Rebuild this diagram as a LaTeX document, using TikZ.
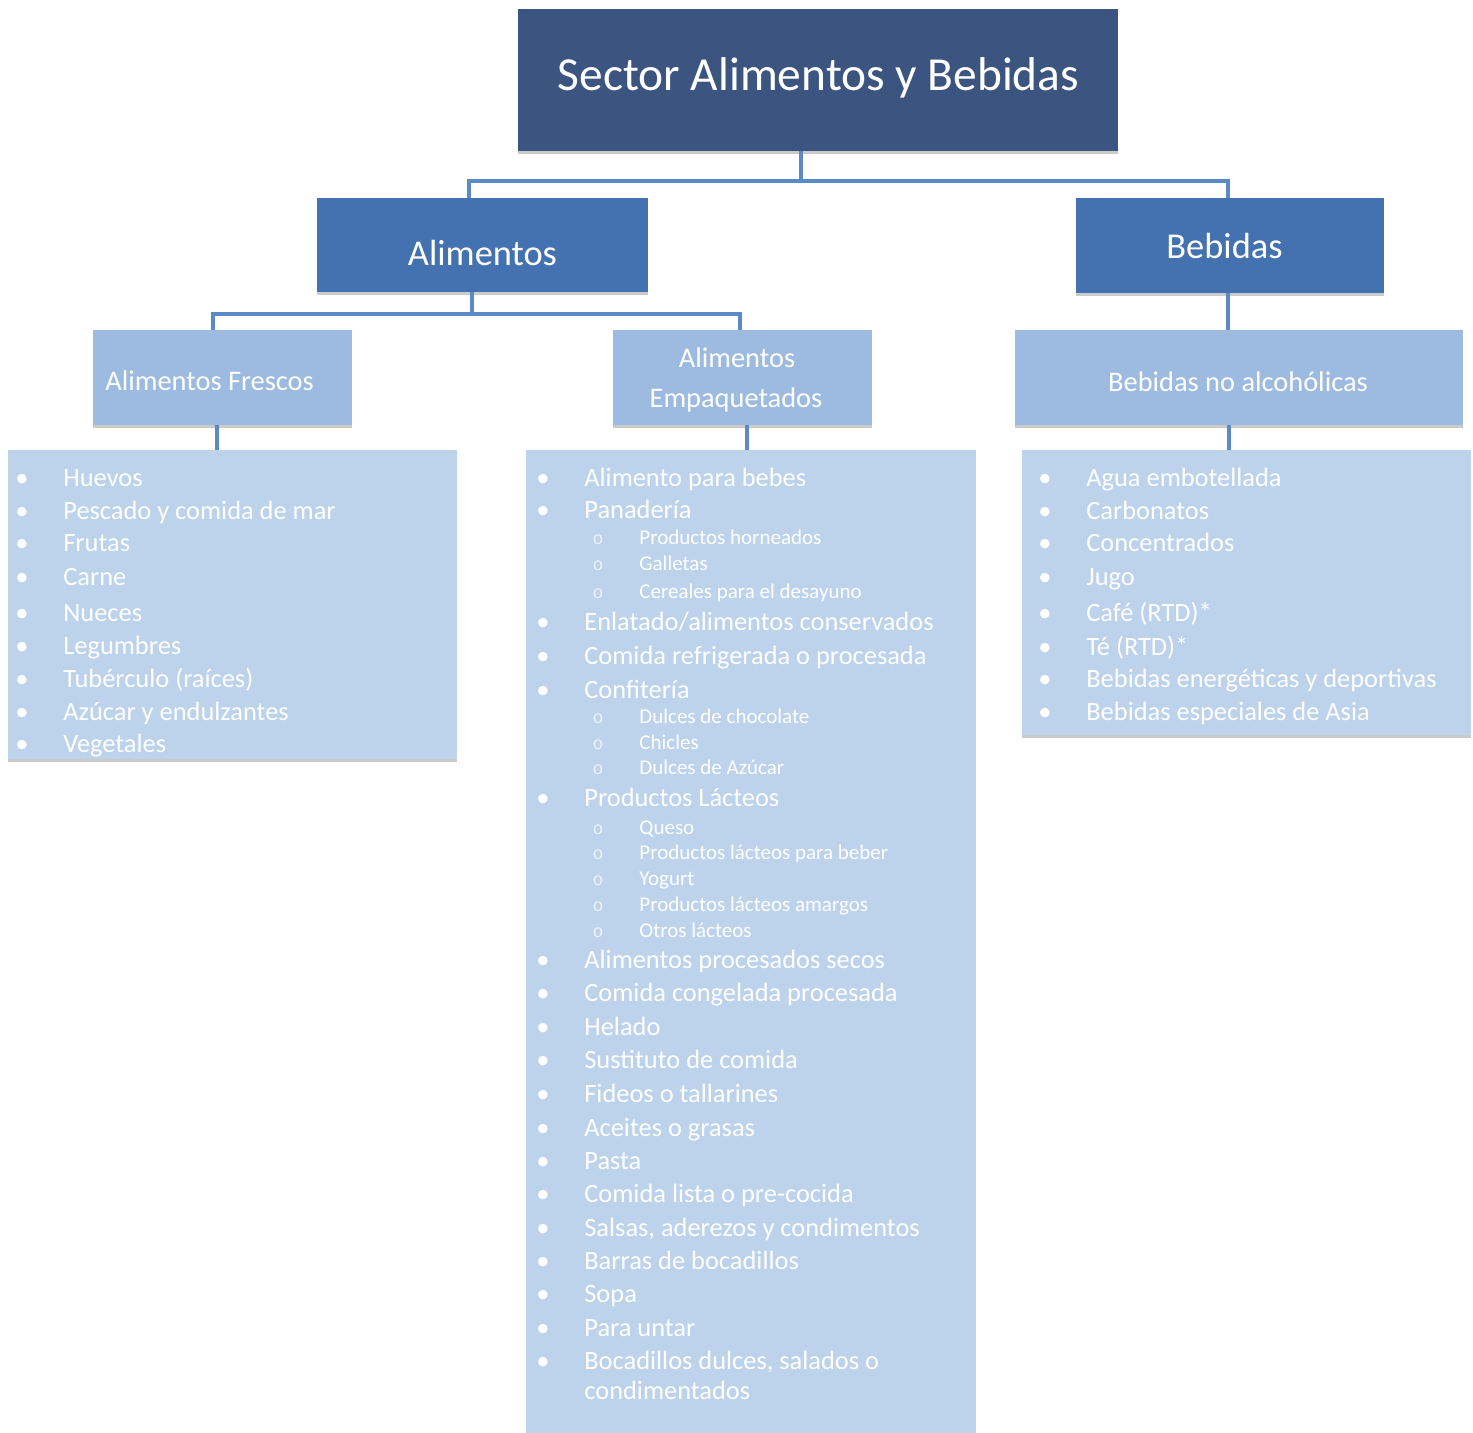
\documentclass[tikz,border=0pt]{standalone}
\usepackage{fontspec}
\setmainfont{Carlito}
\newfontfamily\monof{Liberation Mono}
\usetikzlibrary{fit,shadows}
\definecolor{cTop}{HTML}{3B5480}
\definecolor{cMid}{HTML}{4472B0}
\definecolor{cLow}{HTML}{9DBBE0}
\definecolor{cList}{HTML}{BDD3EC}
\definecolor{cConn}{HTML}{5B8BC7}
\newcommand\mybul{\llap{\makebox[0pt]{•}\hspace{20.75pt}}}
\newcommand\mysubbul{\llap{\makebox[0pt]{\color{white!70!cList}\monof\fontsize{9}{11}\selectfont o}\hspace{20.75pt}}}
\tikzset{
  box/.style={inner sep=0pt, draw=none, drop shadow={shadow xshift=0pt, shadow yshift=-1.6pt, opacity=0.35, fill=black!60}},
  lab/.style={text=white, inner sep=0pt, anchor=base},
  item/.style={text=white, inner sep=0pt, anchor=base west, font=\fontsize{13.2}{15}\selectfont},
  subitem/.style={text=white, inner sep=0pt, anchor=base west, font=\fontsize{10.5}{12}\selectfont},
  conn/.style={draw=cConn, line width=2.1pt}
}
\begin{document}
\begin{tikzpicture}[x=0.5pt,y=-0.5pt]
\useasboundingbox (0,0) rectangle (1473,1433);
% boxes
\node[box, fill=cTop, fit={(518,9) (1118,151)}] (top) {};
\node[box, fill=cMid, fit={(317,198) (648,292)}] (alim) {};
\node[box, fill=cMid, fit={(1076,198) (1384,293)}] (beb) {};
\node[box, fill=cLow, fit={(93,330) (352,425)}] (fres) {};
\node[box, fill=cLow, fit={(613,330) (872,425)}] (emp) {};
\node[box, fill=cLow, fit={(1015,330) (1463,425)}] (bna) {};
\node[box, fill=cList, fit={(8,450) (457,759)}] (lfres) {};
\node[box, fill=cList, fit={(526,450) (976,1440)}] (lemp) {};
\node[box, fill=cList, fit={(1022,450) (1471,735)}] (lbeb) {};
% connectors
\coordinate (jt) at (801,181);
\coordinate (jl) at (469,181);
\coordinate (jr) at (1228,181);
\coordinate (ja) at (472,314);
\coordinate (jal) at (213,314);
\coordinate (jar) at (740,314);
\coordinate (xf) at (217,440);
\coordinate (xe) at (747,440);
\coordinate (xb) at (1229,440);
\draw[conn] (top.south -| jt) -- (jt);
\draw[conn] (alim.north -| jl) -- (jl) -- (jr) -- (beb.north -| jr);
\draw[conn] (alim.south -| ja) -- (ja);
\draw[conn] (fres.north -| jal) -- (jal) -- (jar) -- (emp.north -| jar);
\draw[conn] (beb.south -| jr) -- (bna.north -| jr);
\draw[conn] (fres.south -| xf) -- (lfres.north -| xf);
\draw[conn] (emp.south -| xe) -- (lemp.north -| xe);
\draw[conn] (bna.south -| xb) -- (lbeb.north -| xb);
% labels
\node[lab, font=\fontsize{23.7}{28}\selectfont] (ttop) at (818.5,91) {Sector Alimentos y Bebidas};
\node[lab, font=\fontsize{18.2}{21}\selectfont] (talim) at (482.5,266) {Alimentos};
\node[lab, font=\fontsize{18.2}{21}\selectfont] (tbeb) at (1224.5,259) {Bebidas};
\node[lab, font=\fontsize{14.2}{17}\selectfont, anchor=base west] (tfres) at (105,390.5) {Alimentos Frescos};
\node[lab, font=\fontsize{14.2}{17}\selectfont] (temp1) at (737,368) {Alimentos};
\node[lab, font=\fontsize{14.2}{17}\selectfont] (temp2) at (736,408) {Empaquetados};
\node[lab, font=\fontsize{14.2}{17}\selectfont] (tbna) at (1238,391.5) {Bebidas no alcohólicas};
% Frescos list
\foreach \t/\y [count=\i] in {Huevos/487, {Pescado y comida de mar}/520, Frutas/552, Carne/585, Nueces/621, Legumbres/654, {Tubérculo (raíces)}/687, {Azúcar y endulzantes}/720, Vegetales/752}
  \node[item] (fr\i) at (63,\y) {\mybul\t};
% Bebidas list
\foreach \t/\y [count=\i] in {{Agua embotellada}/487, Carbonatos/520, Concentrados/552, Jugo/585, {Café (RTD)*}/621, {Té (RTD)*}/655, {Bebidas energéticas y deportivas}/687, {Bebidas especiales de Asia}/720}
  \node[item] (be\i) at (1086,\y) {\mybul\t};
% Empaquetados list
\foreach \t/\y [count=\i] in {{Alimento para bebes}/487, Panadería/518, {Enlatado/alimentos conservados}/630, {Comida refrigerada o procesada}/664, Confitería/698, {Productos Lácteos}/806, {Alimentos procesados secos}/968, {Comida congelada procesada}/1001, Helado/1035, {Sustituto de comida}/1068, {Fideos o tallarines}/1102, {Aceites o grasas}/1136, Pasta/1169, {Comida lista o pre-cocida}/1202, {Salsas, aderezos y condimentos}/1236, {Barras de bocadillos}/1269, Sopa/1302, {Para untar}/1336, {Bocadillos dulces, salados o}/1369}
  \node[item] (em\i) at (584,\y) {\mybul\t};
\node[item] (emcont) at (584,1399) {condimentados};
\foreach \t/\y [count=\i] in {{Productos horneados}/544.5, Galletas/570.5, {Cereales para el desayuno}/598.5, {Dulces de chocolate}/723.5, Chicles/749.5, {Dulces de Azúcar}/774.5, Queso/834.5, {Productos lácteos para beber}/859.5, Yogurt/885.5, {Productos lácteos amargos}/911.5, {Otros lácteos}/937.5}
  \node[subitem] (es\i) at (639,\y) {\mysubbul\t};
\end{tikzpicture}
\end{document}
